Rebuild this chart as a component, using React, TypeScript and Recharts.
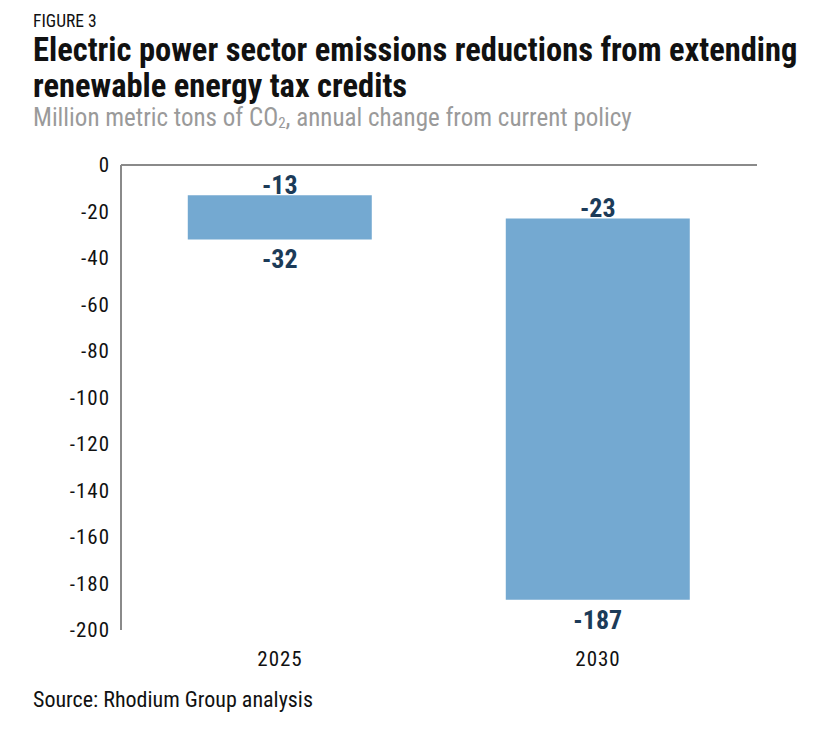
import React from 'react';
import { BarChart, Bar, XAxis, YAxis, ReferenceLine, LabelList } from 'recharts';

const categories = ['2025', '2030'];
const upperValues = [-13, -23];
const lowerValues = [-32, -187];
const yTicks = [0, -20, -40, -60, -80, -100, -120, -140, -160, -180, -200];

const data = categories.map((c, i) => ({
  year: c,
  range: [lowerValues[i], upperValues[i]],
  upper: upperValues[i],
  lower: lowerValues[i],
}));

const FONT = '"Roboto Condensed", "Liberation Sans Narrow", "Noto Sans", sans-serif';
const LABEL_COLOR = '#1c3b58';

const RangeLabel = (props: any) => {
  const { x, y, width, height, index } = props;
  const d = data[index];
  if (!d) return null;
  const cx = x + width / 2;
  const top = Math.min(y, y + height);
  const bottom = Math.max(y, y + height);
  return (
    <g>
      <text x={cx} y={top - 1} textAnchor="middle" fill={LABEL_COLOR} fontSize={26} fontWeight={700} fontFamily={FONT}>
        {d.upper}
      </text>
      <text x={cx} y={bottom + 29} textAnchor="middle" fill={LABEL_COLOR} fontSize={26} fontWeight={700} fontFamily={FONT}>
        {d.lower}
      </text>
    </g>
  );
};

export default function App() {
  return (
    <div style={{ position: 'absolute', left: 0, top: 0, width: 824, height: 746, background: '#fff', fontFamily: FONT }}>
      <div style={{ position: 'absolute', left: 0, top: 0 }}>
        <BarChart
          width={824}
          height={746}
          data={data}
          margin={{ top: 165, right: 67, left: 0, bottom: 76 }}
          barCategoryGap="21%"
        >
          <XAxis
            dataKey="year"
            axisLine={false}
            tickLine={false}
            tickSize={0}
            tickMargin={21}
            height={40}
            tick={{ fontSize: 21, fill: '#111', fontFamily: FONT, letterSpacing: 1 }}
          />
          <YAxis
            domain={[-200, 0]}
            ticks={yTicks}
            width={121}
            tickLine={false}
            tickSize={0}
            tickMargin={11}
            axisLine={{ stroke: '#8a8a8a', strokeWidth: 2 }}
            tick={{ fontSize: 21, fill: '#111', fontFamily: FONT, letterSpacing: 1 }}
            interval={0}
          />
          <ReferenceLine y={0} stroke="#8a8a8a" strokeWidth={2} />
          <Bar dataKey="range" fill="#74a9d1" isAnimationActive={false}>
            <LabelList dataKey="range" content={RangeLabel} />
          </Bar>
        </BarChart>
      </div>
      <div style={{ position: 'absolute', left: 33, top: 10, fontSize: 17.5, lineHeight: '22px', color: '#111' }}>FIGURE 3</div>
      <div style={{ position: 'absolute', left: 33, top: 32, fontSize: 32.5, fontWeight: 700, color: '#111', lineHeight: '36px', width: 800, whiteSpace: 'nowrap' }}>
        Electric power sector emissions reductions from extending<br />renewable energy tax credits
      </div>
      <div style={{ position: 'absolute', left: 33, top: 105, fontSize: 25, lineHeight: '26px', color: '#9a9a9a', whiteSpace: 'nowrap' }}>
        Million metric tons of CO<sub style={{ fontSize: 15, lineHeight: '0', verticalAlign: '-2px' }}>2</sub>, annual change from current policy
      </div>
      <div style={{ position: 'absolute', left: 33, top: 687, fontSize: 22, color: '#111' }}>Source: Rhodium Group analysis</div>
    </div>
  );
}
